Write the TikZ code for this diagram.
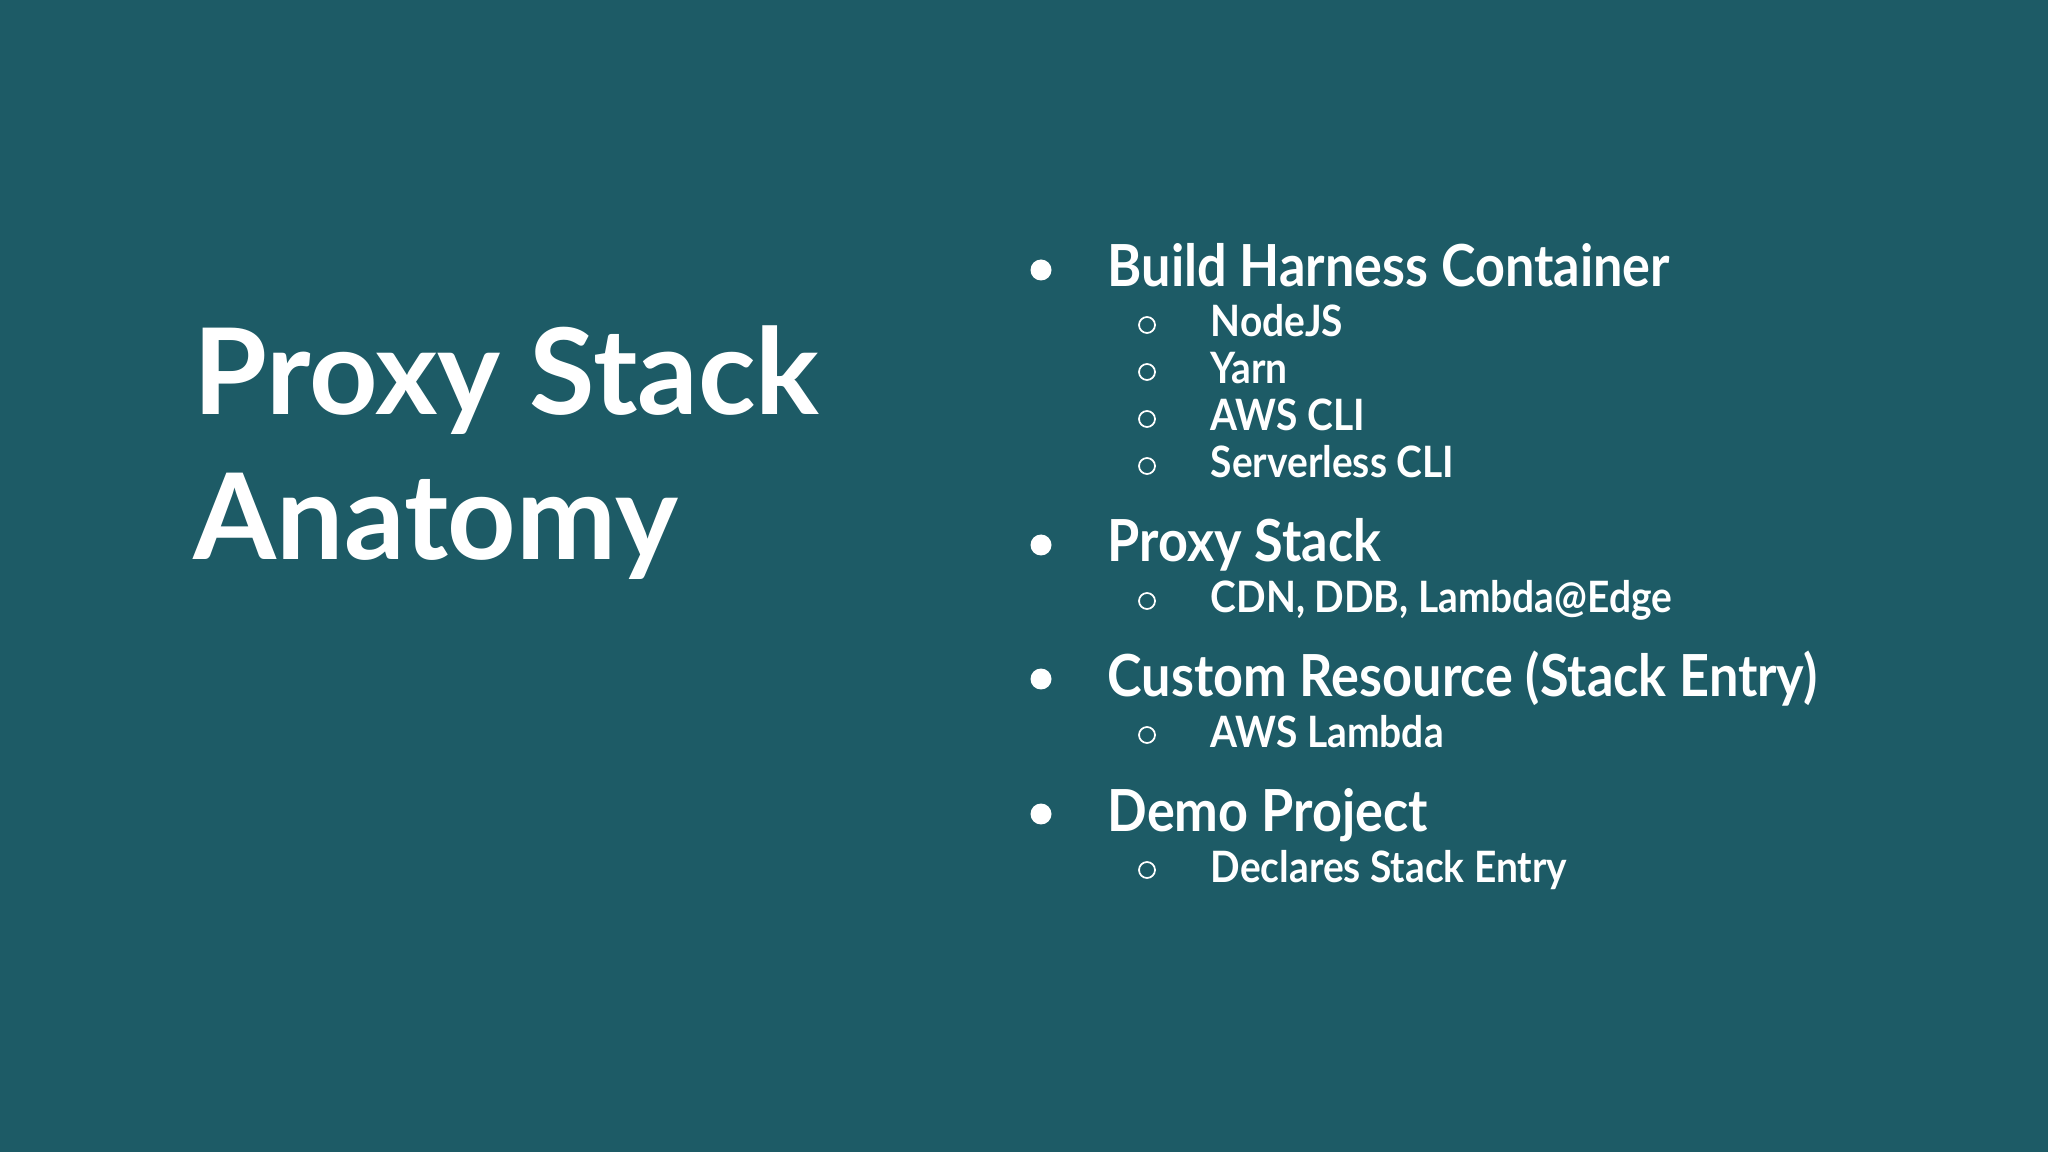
\documentclass[tikz,border=0pt]{standalone}
\usepackage{fontspec}
\setmainfont{Lato}
\newfontfamily\narrowlato{Lato}[FakeStretch=0.90]
\definecolor{slidebg}{HTML}{1D5B66}
\tikzset{
  title/.style={anchor=base west, text=white, font=\fontsize{34}{41}\selectfont\bfseries, inner sep=0pt},
  mainitem/.style={anchor=base west, text=white, font=\narrowlato\fontsize{16.5}{20}\selectfont\bfseries, inner sep=0pt},
  subitem/.style={anchor=base west, text=white, font=\narrowlato\fontsize{12.3}{15}\selectfont\bfseries, inner sep=0pt}
}
\begin{document}
\begin{tikzpicture}
    \fill [slidebg] (0,0) rectangle (20.48,-11.52);

    \node [title] (title1) at (1.93,-4.15) {Proxy Stack};
    \node [title] (title2) at (1.93,-5.59) {Anatomy};

    % main bullets
    \foreach \name/\y/\txt in {build/2.87/Build Harness Container, proxy/5.62/Proxy Stack,
        custom/6.96/Custom Resource (Stack Entry), demo/8.31/Demo Project} {
        \fill [white] (10.41,-\y+0.17) circle (0.105);
        \node [mainitem] (\name) at (11.07,-\y) {\txt};
    }

    % sub bullets
    \foreach \name/\y/\txt in {node/3.37/NodeJS, yarn/3.84/Yarn, awscli/4.31/AWS CLI,
        slscli/4.78/Serverless CLI, cdn/6.13/{CDN, DDB, Lambda@Edge},
        lambda/7.47/AWS Lambda, declares/8.82/Declares Stack Entry} {
        \draw [white, line width=0.5pt] (11.47,-\y+0.12) circle (0.08);
        \node [subitem] (\name) at (12.10,-\y) {\txt};
    }
\end{tikzpicture}
\end{document}
